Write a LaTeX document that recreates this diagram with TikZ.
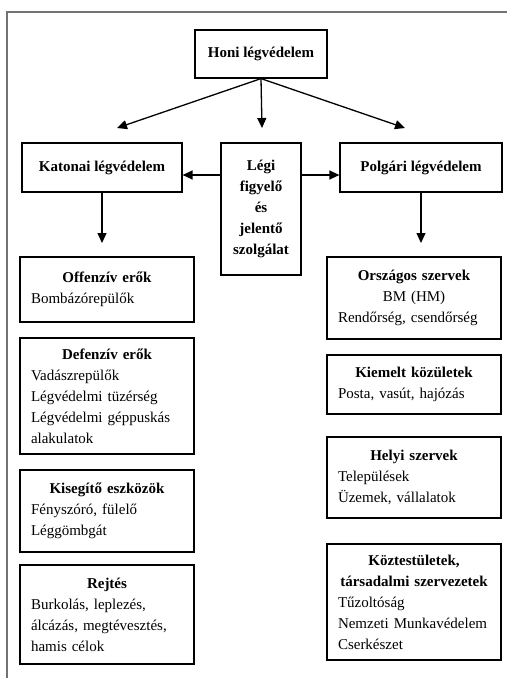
\documentclass[tikz,border=0pt]{standalone}
\usepackage{fontspec}
\setmainfont{Liberation Serif}
\usetikzlibrary{arrows.meta}
\newcommand{\boxhead}[1]{\makebox[\hsize]{\textbf{#1}}}
\newcommand{\boxmid}[1]{\makebox[\hsize]{#1}}

\begin{document}
\begin{tikzpicture}[x=1pt,y=-1pt,
  head/.style={draw,line width=1.2pt,inner sep=0pt,align=center,font=\fontsize{15}{21}\selectfont\bfseries},
  list/.style={draw,line width=1.2pt,inner sep=0pt,minimum width=174pt,text width=152pt,align=left,font=\fontsize{15}{21}\selectfont},
  arr/.style={line width=1.3pt,-{Triangle[length=10pt,width=9pt]}}]
\useasboundingbox (0,0) rectangle (507,678);

\draw[black!55,line width=1.5pt] (7,678) -- (7,12) -- (507,12);

\node [head,minimum width=132pt,minimum height=48pt] (Honi) at (261,54) {Honi légvédelem};
\node [head,minimum width=160pt,minimum height=49pt] (Katonai) at (102,167.5) {Katonai légvédelem};
\node [head,minimum width=80pt,minimum height=132pt] (Legi) at (261,209) {Légi\\figyelő\\és\\jelentő\\szolgálat};
\node [head,minimum width=162pt,minimum height=49pt] (Polgari) at (421,167.5) {Polgári légvédelem};

\coordinate (tipK) at (117,128);
\coordinate (tipL) at (262,128);
\coordinate (tipP) at (405,128);
\coordinate (side) at (0,175);
\coordinate (downK) at (102,243);
\coordinate (downP) at (421,243);

\draw[arr] (Honi.south) -- (tipK);
\draw[arr] (Honi.south) -- (tipL);
\draw[arr] (Honi.south) -- (tipP);
\draw[arr] (Legi.west |- side) -- (Katonai.east |- side);
\draw[arr] (Legi.east |- side) -- (Polgari.west |- side);
\draw[arr] (Katonai.south) -- (downK);
\draw[arr] (Polgari.south) -- (downP);

\node [list,minimum height=65pt] (Offenziv) at (107,289.5) {\boxhead{Offenzív erők}\\Bombázórepülők};
\node [list,minimum height=116pt] (Defenziv) at (107,396) {\boxhead{Defenzív erők}\\Vadászrepülők\\Légvédelmi tüzérség\\Légvédelmi géppuskás\\alakulatok};
\node [list,minimum height=82pt] (Kisegito) at (107,511) {\boxhead{Kisegítő eszközök}\\Fényszóró, fülelő\\Léggömbgát};
\node [list,minimum height=99pt] (Rejtes) at (107,614.5) {\boxhead{Rejtés}\\Burkolás, leplezés,\\álcázás, megtévesztés,\\hamis célok};

\node [list,minimum height=82pt] (Orszagos) at (414,298) {\boxhead{Országos szervek}\\\boxmid{BM (HM)}\\Rendőrség, csendőrség};
\node [list,minimum height=59pt] (Kiemelt) at (414,384.5) {\boxhead{Kiemelt közületek}\\Posta, vasút, hajózás};
\node [list,minimum height=81pt] (Helyi) at (414,477.5) {\boxhead{Helyi szervek}\\Települések\\Üzemek, vállalatok};
\node [list,minimum height=116pt] (Kozt) at (414,602) {\boxhead{Köztestületek,}\\\boxhead{társadalmi szervezetek}\\Tűzoltóság\\Nemzeti Munkavédelem\\Cserkészet};
\end{tikzpicture}
\end{document}
